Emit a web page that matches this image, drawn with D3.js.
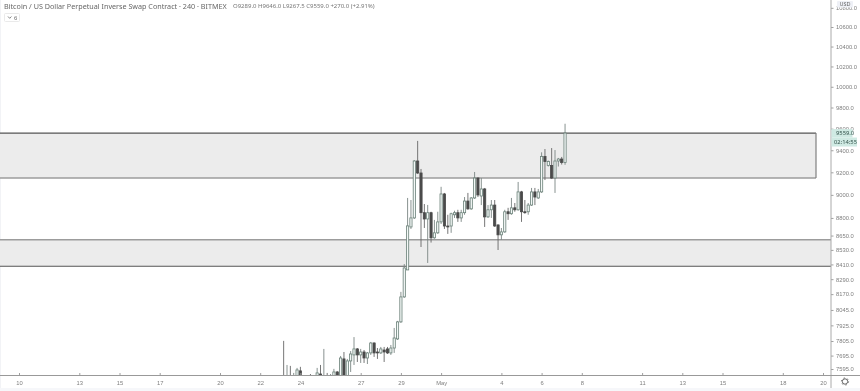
<!DOCTYPE html>
<html>
<head>
<meta charset="utf-8">
<script src="https://cdn.jsdelivr.net/npm/d3@7"></script>
<style>
  html, body { margin: 0; padding: 0; background: #fff; overflow: hidden; }
  svg { display: block; font-family: "Noto Sans", sans-serif; filter: blur(0.35px); }
  .axis text { fill: #7f7f7f; font-size: 5.8px; }
  .axis path, .axis line { stroke: #a0a0a0; }
</style>
</head>
<body>
<div id="chart"></div>
<script>
// 4h candles, first one opens at candleStart
const candleStart = Date.UTC(2020, 3, 23, 4);
const candleHours = 4;

const candleOpen = [7500,7490,7500,7495,7540,7581,7535,7510,7525,7510,7530,7558,7530,7540,7530,7535,7573,7530,7670,7535,7655,7700,7745,7700,7722,7677,7715,7790,7722,7715,7737,7745,7715,7752,7821,7952,8148,8365,8723,8800,9302,9194,8845,8791,8845,8631,8673,8766,9008,8731,8731,8827,8845,8800,8845,8946,8878,8973,9149,8990,9052,8809,8870,8911,8740,8656,8681,8853,8836,8887,8870,9026,8853,8853,8911,9026,8973,9026,9344,9261,9261,9149,9302,9320,9289];
const candleHigh = [7806,7625,7618,7566,7603,7611,7545,7540,7558,7545,7603,7625,7745,7566,7558,7596,7580,7692,7722,7670,7729,7835,7752,7745,7737,7722,7798,7795,7752,7760,7760,7760,7775,7905,7960,8188,8413,8973,8955,9311,9486,9230,8920,8912,8853,8783,8853,9071,9017,8827,8845,8862,8870,8870,8981,9017,8981,9203,9155,9149,9061,8911,8955,8955,8745,8714,8870,8887,8973,8929,9114,9035,8955,8929,9061,9061,9052,9381,9411,9306,9420,9402,9330,9339,9646];
const candleLow = [7470,7480,7480,7485,7530,7520,7500,7500,7500,7495,7520,7510,7520,7515,7520,7525,7520,7520,7525,7525,7573,7625,7647,7640,7640,7632,7700,7685,7670,7707,7647,7707,7700,7715,7813,7944,8140,8365,8706,8791,9185,8554,8714,8422,8591,8623,8664,8748,8706,8664,8673,8800,8766,8766,8827,8870,8870,8964,8981,8911,8723,8800,8800,8723,8529,8614,8673,8783,8827,8853,8862,8766,8836,8827,8903,8911,8964,9017,9131,9252,9140,9017,9252,9270,9267.5];
const candleClose = [7480,7500,7495,7505,7588,7535,7510,7525,7510,7530,7566,7530,7540,7530,7535,7573,7530,7677,7530,7655,7707,7745,7700,7722,7677,7715,7790,7715,7715,7745,7722,7715,7752,7828,7952,8148,8381,8732,8800,9302,9194,8845,8791,8845,8631,8673,8766,9008,8731,8723,8836,8845,8800,8845,8946,8878,8973,9149,8999,9052,8809,8870,8911,8731,8656,8681,8853,8836,8887,8870,9026,8853,8845,8911,9026,8981,9026,9344,9297,9297,9149,9302,9320,9289,9559];

// grey boxes: top price, bottom price
const zoneTop = [9559, 8615];
const zoneBottom = [9149, 8395];

const priceTicks = [10800,10600,10400,10200,10000,9800,9600,9400,9200,9000,8800,8650,8530,8410,8290,8170,8045,7925,7805,7695,7595];
const dateTicks = ["2020-04-10","2020-04-13","2020-04-15","2020-04-17","2020-04-20","2020-04-22","2020-04-24","2020-04-27","2020-04-29","2020-05-01","2020-05-04","2020-05-06","2020-05-08","2020-05-11","2020-05-13","2020-05-15","2020-05-18","2020-05-20"];
const dateLabels = ["10","13","15","17","20","22","24","27","29","May","4","6","8","11","13","15","18","20"];
const lastPrice = 9559;

let width = 860, height = 391;
let plotRight = 831, plotBottom = 375;

let x = d3.scaleUtc()
  .domain([new Date("2020-04-10"), new Date("2020-05-20")])
  .range([19, 823]);
let y = d3.scaleLog()
  .domain([10600, 7595])
  .range([27, 369]);

let svg = d3.select("#chart").append("svg")
  .attr("width", width)
  .attr("height", height);

svg.append("defs").append("clipPath").attr("id", "plot")
  .append("rect").attr("width", plotRight).attr("height", plotBottom);

// left edge and bottom strip
svg.append("rect").attr("width", 1).attr("height", height).attr("fill", "#f2f3f6");
svg.append("rect").attr("y", 388).attr("width", width).attr("height", 3).attr("fill", "#f6f7fa");

let plot = svg.append("g").attr("clip-path", "url(#plot)");

// zones
const zoneRight = [816, plotRight + 2];
zoneTop.forEach(function(top, i) {
  let yTop = y(top), yBottom = y(zoneBottom[i]);
  let right = zoneRight[i];
  plot.append("rect")
    .attr("x", 0).attr("y", yTop)
    .attr("width", right).attr("height", yBottom - yTop)
    .attr("fill", "#ececec");
  plot.append("line")
    .attr("x1", 0).attr("x2", right).attr("y1", yTop).attr("y2", yTop)
    .attr("stroke", i === 0 ? "#555" : "#9c9c9c").attr("stroke-width", i === 0 ? 1.2 : 1.6);
  plot.append("line")
    .attr("x1", 0).attr("x2", right).attr("y1", yBottom).attr("y2", yBottom)
    .attr("stroke", i === 0 ? "#9c9c9c" : "#555").attr("stroke-width", i === 0 ? 1.6 : 1.2);
  if (i === 0) {
    plot.append("line")
      .attr("x1", right).attr("x2", right).attr("y1", yTop).attr("y2", yBottom)
      .attr("stroke", "#808080").attr("stroke-width", 1.2);
  }
});

// candles
const upColor = "#6a8078", downColor = "#4a4a4a";
let candles = plot.selectAll("g.candle")
  .data(candleOpen.map(function(o, i) {
    return {
      t: new Date(candleStart + i * candleHours * 3600000),
      o: o, h: candleHigh[i], l: candleLow[i], c: candleClose[i]
    };
  }))
  .enter().append("g")
  .attr("class", "candle");

candles.append("line")
  .attr("x1", function(d) { return x(d.t); })
  .attr("x2", function(d) { return x(d.t); })
  .attr("y1", function(d) { return y(d.h); })
  .attr("y2", function(d) { return y(d.l); })
  .attr("stroke", function(d) { return d.c >= d.o ? "#7a8683" : "#666"; })
  .attr("stroke-width", 0.9);

candles.append("rect")
  .attr("x", function(d) { return x(d.t) - 1.1; })
  .attr("width", 2.2)
  .attr("y", function(d) { return y(Math.max(d.o, d.c)); })
  .attr("height", function(d) { return Math.max(0.6, Math.abs(y(d.o) - y(d.c))); })
  .attr("fill", function(d) { return d.c >= d.o ? "#f4f8f7" : downColor; })
  .attr("stroke", function(d) { return d.c >= d.o ? upColor : downColor; })
  .attr("stroke-width", 0.8);

// price axis
let yAxis = svg.append("g")
  .attr("class", "axis")
  .attr("transform", "translate(" + plotRight + ",0)")
  .call(d3.axisRight(y).tickValues(priceTicks).tickFormat(d3.format(".1f")).tickSize(2.5).tickPadding(2.5));
yAxis.select(".domain").remove();
svg.append("line")
  .attr("x1", plotRight).attr("x2", plotRight)
  .attr("y1", 0).attr("y2", 388)
  .attr("stroke", "#aaa").attr("stroke-width", 1);

// time axis
let xAxis = svg.append("g")
  .attr("class", "axis")
  .attr("transform", "translate(0," + plotBottom + ")")
  .call(d3.axisBottom(x)
    .tickValues(dateTicks.map(function(d) { return new Date(d); }))
    .tickFormat(function(d, i) { return dateLabels[i]; })
    .tickSize(-2).tickPadding(5.5));
xAxis.select(".domain").remove();
svg.append("line")
  .attr("x1", 0).attr("x2", width)
  .attr("y1", plotBottom + 0.5).attr("y2", plotBottom + 0.5)
  .attr("stroke", "#999").attr("stroke-width", 1);

// last price and countdown tags
svg.append("rect").attr("x", plotRight + 0.5).attr("y", y(lastPrice) - 4)
  .attr("width", 21).attr("height", 8.5).attr("fill", "#cfeae3");
svg.append("text").attr("x", 836).attr("y", y(lastPrice) + 2.2)
  .attr("font-size", 5.8).attr("fill", "#33524b").text(d3.format(".1f")(lastPrice));
svg.append("rect").attr("x", plotRight + 0.5).attr("y", y(lastPrice) + 4.5)
  .attr("width", 25.5).attr("height", 9).attr("fill", "#cfeae3");
svg.append("text").attr("x", 834).attr("y", y(lastPrice) + 11.2)
  .attr("font-size", 5.8).attr("fill", "#33524b").text("02:14:55");

// currency tag
svg.append("rect").attr("x", 837).attr("y", 1).attr("width", 16).attr("height", 6.5)
  .attr("rx", 1).attr("fill", "#eef0f6");
svg.append("text").attr("x", 845).attr("y", 6.4).attr("text-anchor", "middle")
  .attr("font-size", 5.5).attr("fill", "#666").text("USD");

// settings icon
svg.append("circle").attr("cx", 845).attr("cy", 381.5).attr("r", 2.7)
  .attr("fill", "none").attr("stroke", "#555").attr("stroke-width", 0.9);
svg.append("circle").attr("cx", 845).attr("cy", 381.5).attr("r", 3.6)
  .attr("fill", "none").attr("stroke", "#555").attr("stroke-width", 0.9)
  .attr("stroke-dasharray", "1.2 2.57");

// legend
svg.append("text").attr("x", 4).attr("y", 8.5)
  .attr("font-size", 7.2).attr("fill", "#666")
  .text("Bitcoin / US Dollar Perpetual Inverse Swap Contract · 240 · BITMEX");
svg.append("text").attr("x", 233).attr("y", 8.3)
  .attr("font-size", 6).attr("fill", "#777")
  .text("O9289.0  H9646.0  L9267.5  C9559.0  +270.0 (+2.91%)");

// collapsed studies button
svg.append("rect").attr("x", 4.5).attr("y", 13.5).attr("width", 15).attr("height", 8)
  .attr("rx", 1).attr("fill", "#fff").attr("stroke", "#e4e4e4").attr("stroke-width", 0.8);
svg.append("path").attr("d", d3.line()([[8, 16.5], [9.7, 18.3], [11.4, 16.5]]))
  .attr("fill", "none").attr("stroke", "#666").attr("stroke-width", 0.8);
svg.append("text").attr("x", 14).attr("y", 19.5)
  .attr("font-size", 5.8).attr("fill", "#666").text("6");
</script>
</body>
</html>
